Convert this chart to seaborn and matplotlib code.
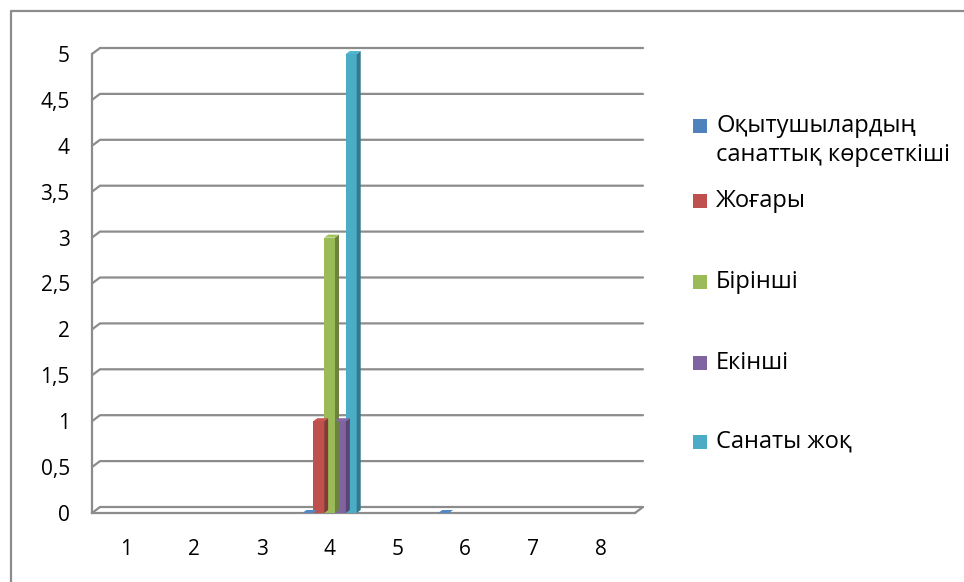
import numpy as np
import pandas as pd
import matplotlib
matplotlib.use("Agg")
import matplotlib.pyplot as plt
from matplotlib.lines import Line2D
from matplotlib.patches import Polygon, Rectangle
from matplotlib.transforms import IdentityTransform
import matplotlib.colors as mcolors
import seaborn as sns

# ---- data ----
categories = ["1", "2", "3", "4", "5", "6", "7", "8"]
series_names = ["Оқытушылардың\nсанаттық көрсеткіші", "Жоғары", "Бірінші", "Екінші", "Санаты жоқ"]
nan = np.nan
s_indicator = [nan, nan, nan, 0, nan, 0, nan, nan]
s_high = [nan, nan, nan, 1, nan, nan, nan, nan]
s_first = [nan, nan, nan, 3, nan, nan, nan, nan]
s_second = [nan, nan, nan, 1, nan, nan, nan, nan]
s_none = [nan, nan, nan, 5, nan, nan, nan, nan]
y_ticks = [0, 0.5, 1, 1.5, 2, 2.5, 3, 3.5, 4, 4.5, 5]

colors = ["#4F81BD", "#C0504D", "#9BBB59", "#8064A2", "#4BACC6"]
GRID = "#8C8C8C"

rows = []
for name, vals in zip(series_names, [s_indicator, s_high, s_first, s_second, s_none]):
    for c, v in zip(categories, vals):
        if not np.isnan(v):
            rows.append({"cat": c, "series": name, "value": v})
df = pd.DataFrame(rows)

sns.set_style("white")
plt.rcParams["font.family"] = ["Open Sans", "DejaVu Sans"]

W, H = 964, 582
fig = plt.figure(figsize=(W / 100, H / 100), dpi=100)
ax = fig.add_axes([92 / W, (H - 513) / H, (635 - 92) / W, (513 - 54) / H])

sns.barplot(data=df, x="cat", y="value", hue="series", order=categories,
            hue_order=series_names, palette=colors, saturation=1, ax=ax,
            legend=False, errorbar=None, linewidth=0, zorder=3)

ax.set_xlim(-0.5, len(categories) - 0.5)
ax.set_ylim(0, 5)
ax.set_xlabel("")
ax.set_ylabel("")

for s in ["top", "right"]:
    ax.spines[s].set_visible(False)
for s in ["left", "bottom"]:
    ax.spines[s].set_color(GRID)
    ax.spines[s].set_linewidth(1.6)

ax.set_yticks(y_ticks)
ax.set_yticklabels([f"{v:g}".replace(".", ",") for v in y_ticks])
ax.set_xticks(np.arange(len(categories)))
ax.set_xticklabels(categories)
ax.set_xticks(np.arange(-0.5, len(categories), 1), minor=True)
ax.tick_params(axis="x", which="major", length=0, pad=19, labelsize=15, colors="black")
ax.tick_params(axis="x", which="minor", length=6, width=1.5, color=GRID, direction="out")
ax.tick_params(axis="y", which="major", length=5, width=1.5, color=GRID, pad=11,
               labelsize=15, labelcolor="black")

# 3D-like back wall gridlines
DX, DY = 8, 6
T = IdentityTransform()
x_left, x_right = ax.get_xlim()
for yv in y_ticks:
    p0 = ax.transData.transform((x_left, yv))
    p1 = ax.transData.transform((x_right, yv))
    xs = [p0[0], p0[0] + DX, p1[0] + DX]
    ys = [p0[1], p0[1] + DY, p1[1] + DY]
    ax.add_line(Line2D(xs, ys, transform=T, color=GRID, lw=1.6, zorder=1, clip_on=False))
p1 = ax.transData.transform((x_right, 0))
ax.add_line(Line2D([p1[0], p1[0] + DX], [p1[1], p1[1] + DY], transform=T, color=GRID,
                   lw=1.6, zorder=1, clip_on=False))

# 3D-like bar depth
BX, BY = 4, 3
for patch in list(ax.patches):
    h = patch.get_height()
    if not np.isfinite(h):
        continue
    x0 = patch.get_x()
    x1 = x0 + patch.get_width()
    fc = np.array(mcolors.to_rgb(patch.get_facecolor()))
    b = ax.transData.transform((x1, 0))
    c = ax.transData.transform((x1, h))
    d = ax.transData.transform((x0, h))
    side = [b, b + [BX, BY], c + [BX, BY], c]
    top = [d, c, c + [BX, BY], d + [BX, BY]]
    ax.add_patch(Polygon(side, closed=True, transform=T, facecolor=fc * 0.7,
                         edgecolor="none", zorder=3, clip_on=False))
    ax.add_patch(Polygon(top, closed=True, transform=T, facecolor=np.minimum(fc * 1.05, 1),
                         edgecolor="none", zorder=3, clip_on=False))

# legend
legend_y = [126, 201, 282, 363, 442]
for name, col, yy in zip(series_names, colors, legend_y):
    fig.patches.append(Rectangle((693 / W, (H - yy - 7) / H), 14 / W, 14 / H,
                                 transform=fig.transFigure, facecolor=col, edgecolor="none"))
    if "\n" in name:
        fig.text(716 / W, (H - yy + 12) / H, name, ha="left", va="top",
                 fontsize=17, linespacing=1.3, color="black")
    else:
        fig.text(716 / W, (H - yy) / H, name, ha="left", va="center",
                 fontsize=17, color="black")

# outer frame
fig.add_artist(Line2D([11 / W, 11 / W, 1], [0, (H - 11) / H, (H - 11) / H],
                      transform=fig.transFigure, color=GRID, lw=1.6))

fig.savefig("out.png", dpi=100)
